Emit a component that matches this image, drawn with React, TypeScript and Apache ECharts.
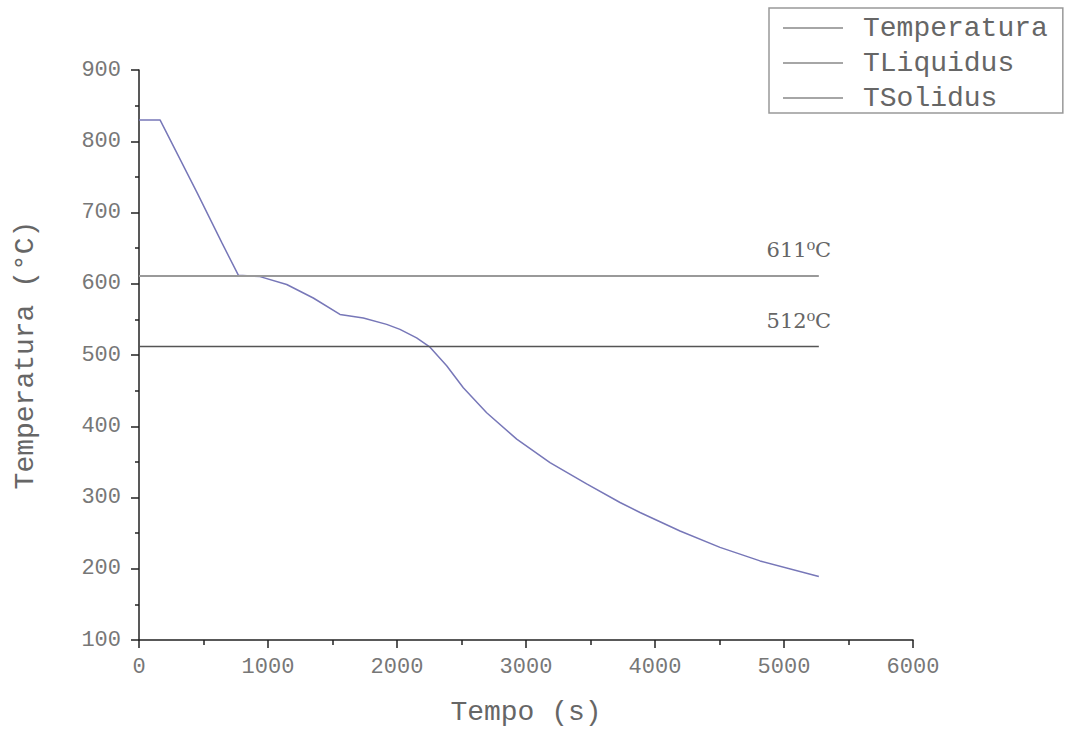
import React, { useEffect, useRef } from "react";
import * as echarts from "echarts";

const timeS = [0, 163, 450, 641, 770, 938, 1145, 1351, 1558, 1739, 1920, 2023, 2152, 2256, 2385, 2514, 2695, 2928, 3186, 3470, 3729, 3884, 4194, 4504, 4814, 5270];
const tempC = [830, 830, 728, 658, 612, 610, 599, 580, 557, 552, 543, 536, 524, 511, 485, 454, 419, 382, 349, 319, 293, 279, 253, 230, 211, 189];
const tLiquidus = 611;
const tSolidus = 512;
const lineSpan = [0, 5270];
const seriesNames = ["Temperatura", "TLiquidus", "TSolidus"];

const mono = "'Liberation Mono', 'DejaVu Sans Mono', monospace";

export default function App() {
  const ref = useRef<HTMLDivElement>(null);
  useEffect(() => {
    const chart = echarts.init(ref.current!, null, { renderer: "svg" });
    const hline = (name: string, v: number, color: string, width: number) => ({
      name,
      type: "line",
      symbol: "none",
      data: lineSpan.map((t) => [t, v]),
      lineStyle: { color, width },
      itemStyle: { color },
      markPoint: {
        symbol: "circle",
        symbolSize: 0,
        itemStyle: { color: "transparent" },
        label: {
          show: true,
          position: "top",
          distance: 15,
          offset: [-20, 0],
          formatter: `${v}\u2070C`,
          color: "#666",
          fontSize: 21,
          fontFamily: "'DejaVu Serif', serif",
        },
        data: [{ coord: [lineSpan[1], v] }],
      },
    });
    chart.setOption({
      animation: false,
      backgroundColor: "#fff",
      grid: { left: 139, right: 152, top: 70, bottom: 90 },
      legend: {
        data: seriesNames.map((n) => ({ name: n, icon: "rect" })),
        orient: "vertical",
        left: 769,
        top: 8,
        padding: [6, 15, 1, 14],
        itemWidth: 60,
        itemHeight: 1.5,
        itemGap: 7,
        borderColor: "#999",
        borderWidth: 1.5,
        backgroundColor: "#fff",
        itemStyle: { color: "#888" },
        textStyle: {
          fontFamily: mono,
          fontSize: 28,
          lineHeight: 28,
          color: "#666",
          padding: [0, 0, 0, 15],
        },
      },
      xAxis: {
        type: "value",
        min: 0,
        max: 6000,
        interval: 1000,
        name: "Tempo (s)",
        nameLocation: "middle",
        nameGap: 58,
        nameTextStyle: { fontFamily: mono, fontSize: 28, color: "#666" },
        axisLine: { lineStyle: { color: "#222", width: 1.5 } },
        axisTick: { length: 8, lineStyle: { color: "#222", width: 1.5 } },
        minorTick: { show: true, splitNumber: 2, length: 5, lineStyle: { color: "#222", width: 1.5 } },
        axisLabel: { margin: 16, fontFamily: mono, fontSize: 22, color: "#777", formatter: (v: number) => String(v) },
        splitLine: { show: false },
      },
      yAxis: {
        type: "value",
        min: 100,
        max: 900,
        interval: 100,
        name: "Temperatura (\u00b0C)",
        nameLocation: "middle",
        nameGap: 100,
        nameTextStyle: { fontFamily: mono, fontSize: 28, color: "#666" },
        axisLine: { show: true, lineStyle: { color: "#222", width: 1.5 } },
        axisTick: { show: true, length: 8, lineStyle: { color: "#222", width: 1.5 } },
        minorTick: { show: true, splitNumber: 2, length: 4, lineStyle: { color: "#222", width: 1.5 } },
        axisLabel: { margin: 18, fontFamily: mono, fontSize: 22, color: "#777", formatter: (v: number) => String(v) },
        splitLine: { show: false },
      },
      series: [
        {
          name: seriesNames[0],
          type: "line",
          symbol: "none",
          data: timeS.map((t, i) => [t, tempC[i]]),
          lineStyle: { color: "#7777b8", width: 1.5 },
          itemStyle: { color: "#8888aa" },
          z: 3,
        },
        hline(seriesNames[1], tLiquidus, "#999", 2),
        hline(seriesNames[2], tSolidus, "#555", 1.5),
      ],
    });
    return () => chart.dispose();
  }, []);
  return <div ref={ref} style={{ position: "absolute", left: 0, top: 0, width: 1065, height: 731 }} />;
}
